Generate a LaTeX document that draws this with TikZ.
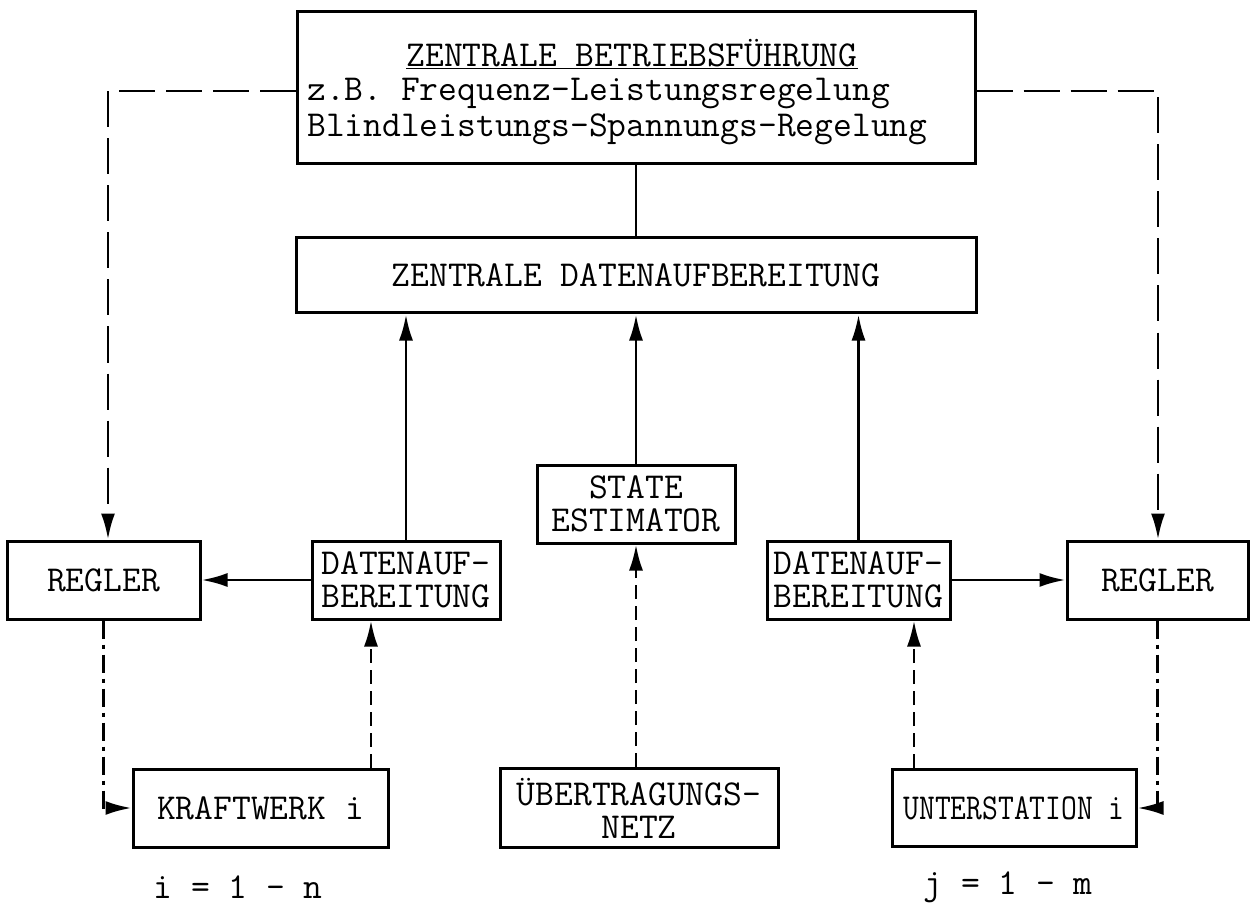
\documentclass[tikz,border=0pt]{standalone}
\usepackage{fontspec}
\usepackage{graphicx}
\usetikzlibrary{arrows.meta}
\begin{document}
\begin{tikzpicture}[x=1pt,y=-1pt,
  box/.style={draw, line width=3pt, inner sep=0pt, align=center,
    font=\ttfamily\fontsize{36.5}{33}\selectfont},
  txt/.style={inner sep=0pt, font=\ttfamily\fontsize{36.5}{33}\selectfont},
  conn/.style={line width=2.8pt},
  arr/.style={-{Latex[length=26pt,width=14pt]}},
  dsh/.style={dash pattern=on 36pt off 11pt},
  dshdot/.style={dash pattern=on 18pt off 6pt on 4pt off 6pt},
  fine/.style={dash pattern=on 14pt off 7pt}
]
\useasboundingbox (0,0) rectangle (1253,909);
% boxes
\node[box, minimum width=678pt, minimum height=152pt] (zb) at (636,88) {};
\node[txt] (zbt) at (632,54) {\underline{ZENTRALE BETRIEBSFÜHRUNG}};
\node[txt, anchor=west] (zb2) at (307,94) {z.B. Frequenz-Leistungsregelung};
\node[txt, anchor=west] (zb3) at (307,129) {Blindleistungs-Spannungs-Regelung};
\node[box, minimum width=680pt, minimum height=75pt] (zd) at (636,275.5) {ZENTRALE DATENAUFBEREITUNG};
\node[box, minimum width=193pt, minimum height=78pt] (rl) at (103.5,580) {REGLER};
\node[box, minimum width=188pt, minimum height=78pt] (dl) at (406,580) {DATENAUF-\\BEREITUNG};
\node[box, minimum width=198pt, minimum height=78pt] (se) at (636,504) {STATE\\ESTIMATOR};
\node[box, minimum width=183pt, minimum height=78pt] (dr) at (858.5,580) {DATENAUF-\\BEREITUNG};
\node[box, minimum width=181pt, minimum height=78pt] (rr) at (1157.5,580) {REGLER};
\node[box, minimum width=255pt, minimum height=78pt] (kw) at (260.5,808) {KRAFTWERK i};
\node[box, minimum width=278pt, minimum height=79pt] (un) at (639,808) {ÜBERTRAGUNGS-\\NETZ};
\node[box, minimum width=244pt, minimum height=77pt] (us) at (1014,808) {\scalebox{0.84}[1]{UNTERSTATION i}};
\node[txt] (li) at (238,887) {i = 1 - n};
\node[txt] (lj) at (1008,887) {j = 1 - m};
% helper coordinates
\coordinate (cl) at (108,91);
\coordinate (cr) at (1158,91);
\coordinate (xa) at (371,0);
\coordinate (xb) at (914,0);
% connectors
\draw[conn] (zb.south) -- (zd.north);
\draw[conn,arr] (dl.north) -- (dl.north |- zd.south);
\draw[conn,arr] (se.north) -- (se.north |- zd.south);
\draw[conn,arr] (dr.north) -- (dr.north |- zd.south);
\draw[conn,arr] (dl.west) -- (rl.east);
\draw[conn,arr] (dr.east) -- (rr.west);
\draw[conn,dsh,arr] (zb.west |- cl) -- (cl) -- (cl |- rl.north);
\draw[conn,dsh,arr] (zb.east |- cr) -- (cr) -- (cr |- rr.north);
\draw[conn,dshdot,arr] (rl.south) -- (rl.south |- kw.west) -- (kw.west);
\draw[conn,dshdot,arr] (rr.south) -- (rr.south |- us.east) -- (us.east);
\draw[conn,fine,arr] (kw.north -| xa) -- (dl.south -| xa);
\draw[conn,fine,arr] (un.north -| se.south) -- (se.south);
\draw[conn,fine,arr] (us.north -| xb) -- (dr.south -| xb);
\end{tikzpicture}
\end{document}
